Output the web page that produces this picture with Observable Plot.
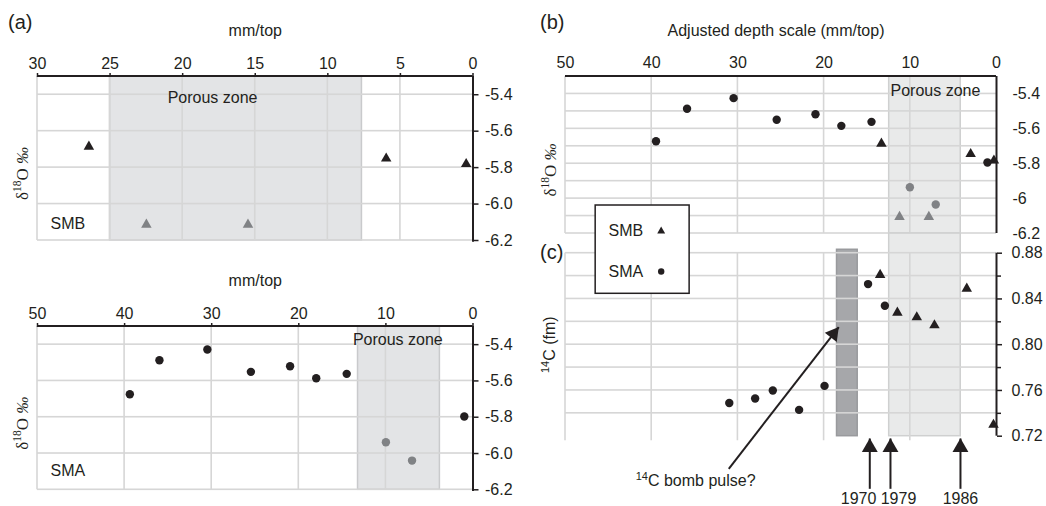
<!DOCTYPE html>
<html><head><meta charset="utf-8">
<script src="https://cdn.jsdelivr.net/npm/d3@7"></script>
<script src="https://cdn.jsdelivr.net/npm/@observablehq/plot@0.6"></script>
<style>
body{margin:0;background:#fff;}
#wrap{position:relative;width:1046px;height:506px;overflow:hidden;font-family:'Liberation Sans',Arial,Helvetica,sans-serif;color:#231f20;background:#fff;}
.panel{position:absolute;}
.tag{position:absolute;font-size:20px;line-height:24px;z-index:5;}
</style></head>
<body><div id="wrap">
<div class="tag" style="left:8px;top:10px">(a)</div>
<div class="tag" style="left:540px;top:10px">(b)</div>
<div class="tag" style="left:540px;top:240px">(c)</div>
</div>
<script>
// ---------- data ----------
// (a) top: SMB, depth (mm from top) vs d18O
const smbDepthA = [26.46, 5.98, 0.47];
const smbD18OA = [-5.685, -5.75, -5.78];
const smbPorousDepthA = [22.5, 15.5];
const smbPorousD18OA = [-6.113, -6.113];
// (a) bottom: SMA
const smaDepthA = [39.4, 36.0, 30.5, 25.5, 21.0, 18.0, 14.5, 1.0];
const smaD18OA = [-5.673, -5.486, -5.427, -5.55, -5.519, -5.585, -5.561, -5.796];
const smaPorousDepthA = [10.0, 7.0];
const smaPorousD18OA = [-5.938, -6.039];
// (b) adjusted depth scale
const smaDepthB = [39.5, 35.9, 30.5, 25.5, 21.0, 18.0, 14.5, 1.05];
const smaD18OB = [-5.671, -5.485, -5.424, -5.548, -5.516, -5.583, -5.56, -5.793];
const smaPorousDepthB = [10.05, 7.05];
const smaPorousD18OB = [-5.935, -6.034];
const smbDepthB = [13.35, 3.0, 0.3];
const smbD18OB = [-5.685, -5.744, -5.782];
const smbPorousDepthB = [11.25, 7.85];
const smbPorousD18OB = [-6.105, -6.105];
// (c) 14C (fm)
const smaDepthC = [31.0, 28.0, 25.95, 22.9, 19.95, 14.9, 12.95];
const smaC14 = [0.749, 0.753, 0.760, 0.743, 0.764, 0.853, 0.834];
const smbDepthC = [13.5, 11.5, 9.25, 7.2, 3.45, 0.35];
const smbC14 = [0.861, 0.828, 0.824, 0.817, 0.849, 0.730];
// zones
const porousZoneA = [25, 7.65];
const porousZoneA2 = [13.2, 3.8];
const porousZoneBC = [12.45, 4.15];
const bombBar = [18.5, 16.1];
const bombBarTop = 0.883;
// scales / ticks
const d18ODomain = [-6.2, -5.3];
const c14Domain = [0.72, 0.88];
const xTicksA = [30, 25, 20, 15, 10, 5, 0];
const xGridA = [30, 25, 20, 15, 10, 5];
const xTicks50 = [50, 40, 30, 20, 10, 0];
const xGrid50 = [50, 40, 30, 20, 10];
const d18OTicks = [-5.4, -5.6, -5.8, -6.0, -6.2];
const d18OLabelsA = ["-5.4", "-5.6", "-5.8", "-6.0", "-6.2"];
const d18OLabelsB = ["-5.4", "-5.6", "-5.8", "-6", "-6.2"];
const d18OGridB = [-5.4, -5.5, -5.6, -5.7, -5.8, -5.9, -6.0, -6.1, -6.2];
const c14Ticks = [0.88, 0.84, 0.80, 0.76, 0.72];
const c14Labels = ["0.88", "0.84", "0.80", "0.76", "0.72"];
const c14Minor = [0.86, 0.82, 0.78, 0.74];
const c14Grid = [0.74, 0.76, 0.78, 0.80, 0.82, 0.84, 0.86, 0.88];
// annotations
const yearArrowX = [14.7, 12.3, 4.18];
const yearArrowY = [0.674, 0.718];
const yearLabels = ["1970", "1979", "1986"];
const yearLabelX = [16.0, 11.37, 4.18];
const yearLabelY = 0.6652;
const bombArrow = {x1: 31.06, y1: 0.6915, x2: 18.3, y2: 0.8154};
const bombText = {x: 34.9, y: 0.6812, t: "14C bomb pulse?"};
const legendBox = {x1: 46.5, x2: 35.6, y1: 0.8445, y2: 0.9217};
const legendItems = [{t: "SMB", sym: "triangle", y: 0.8993}, {t: "SMA", sym: "circle", y: 0.864}];
const legendTextX = 45.0, legendSymX = 38.9;

// ---------- style ----------
const INK = "#231f20", GRID = "#d6d6d6", GRAYPT = "#808285";
const STYLE = {fontFamily: "'Liberation Sans', Arial, Helvetica, sans-serif", fontSize: "16px", color: INK, background: "transparent", overflow: "visible"};
const SERIF = "'Liberation Serif', 'Times New Roman', serif";
const rows = (xs, ys) => xs.map((x, i) => ({x, y: ys[i]}));
// grid lines drawn as thin filled rects so that they sit above the shaded zones
const hLines = (vals, xd, fill = GRID, w = 0.8) => Plot.rect(vals, {y1: d => d, y2: d => d, x1: xd[0], x2: xd[1], insetTop: -w, insetBottom: -w, fill});
const vLines = (vals, yd, fill = GRID, w = 0.8) => Plot.rect(vals, {x1: d => d, x2: d => d, y1: yd[0], y2: yd[1], insetLeft: -w, insetRight: -w, fill});
const wrap = document.getElementById("wrap");
function mount(svg, left, top) {
  const d = document.createElement("div");
  d.className = "panel"; d.style.left = left + "px"; d.style.top = top + "px";
  d.appendChild(svg); wrap.appendChild(d);
}
const mapA = new Map(d18OTicks.map((d, i) => [d, d18OLabelsA[i]]));
const mapB = new Map(d18OTicks.map((d, i) => [d, d18OLabelsB[i]]));
const mapC = new Map(c14Ticks.map((d, i) => [d, c14Labels[i]]));
const D18O_TITLE = "δ18O ‰";

function panelA(o) {
  return Plot.plot({
    width: 540, height: o.height, marginLeft: 37, marginRight: 67.5, marginTop: 76, marginBottom: o.mb,
    x: {domain: o.xDomain, axis: null}, y: {domain: d18ODomain, axis: null},
    style: STYLE,
    marks: [
      Plot.rect([{x1: o.zone[0], x2: o.zone[1], y1: d18ODomain[0], y2: d18ODomain[1]}],
        {x1: "x1", x2: "x2", y1: "y1", y2: "y2", fill: "#e3e4e6", stroke: "#c9cacc", strokeWidth: 1.5}),
      vLines(o.xGrid, d18ODomain),
      hLines(d18OTicks, o.xDomain),
      hLines([d18ODomain[1]], o.xDomain, INK, 1),
      Plot.ruleX([0], {y1: d18ODomain[0] - 0.01, y2: d18ODomain[1], stroke: INK, strokeWidth: 2}),
      Plot.axisX({ticks: o.xTicks, anchor: "top", tickSize: 4, tickPadding: 4, label: null, strokeWidth: 1.5}),
      Plot.axisY({ticks: d18OTicks, anchor: "right", tickSize: 5, tickPadding: 7, tickFormat: d => mapA.get(d), label: null, strokeWidth: 1.5}),
      Plot.text(["mm/top"], {frameAnchor: "top", dy: -46, lineAnchor: "middle", fontSize: 16}),
      Plot.text([D18O_TITLE], {frameAnchor: "left", dx: -15, dy: 15, rotate: -90, fontSize: 17, fontFamily: SERIF}),
      Plot.text([{t: "Porous zone", ...o.zoneLabel}], {x: "x", y: "y", text: "t", fontSize: 16, lineAnchor: "middle"}),
      Plot.text([{t: o.name, ...o.nameLabel}], {x: "x", y: "y", text: "t", textAnchor: "start", fontSize: 16, lineAnchor: "middle"}),
      Plot.dot(rows(o.px, o.py), {x: "x", y: "y", symbol: o.sym, r: o.r, fill: INK, stroke: "none"}),
      Plot.dot(rows(o.gx, o.gy), {x: "x", y: "y", symbol: o.sym, r: o.r, fill: GRAYPT, stroke: "none"})
    ]
  });
}

const a1 = panelA({height: 250, mb: 10, xDomain: [30, 0], xTicks: xTicksA, xGrid: xGridA, zone: porousZoneA,
  zoneLabel: {x: 17.94, y: -5.418}, name: "SMB", nameLabel: {x: 29.1, y: -6.107},
  px: smbDepthA, py: smbD18OA, gx: smbPorousDepthA, gy: smbPorousD18OA, sym: "triangle", r: 3.9});
mount(a1, 0, 0);
const a2 = panelA({height: 256, mb: 16.7, xDomain: [50, 0], xTicks: xTicks50, xGrid: xGrid50, zone: porousZoneA2,
  zoneLabel: {x: 8.63, y: -5.373}, name: "SMA", nameLabel: {x: 48.5, y: -6.098},
  px: smaDepthA, py: smaD18OA, gx: smaPorousDepthA, gy: smaPorousD18OA, sym: "circle", r: 4.2});
mount(a2, 0, 250);

// panel b
const b = Plot.plot({
  width: 506, height: 250, marginLeft: 25, marginRight: 50, marginTop: 76, marginBottom: 17,
  x: {domain: [50, 0], axis: null}, y: {domain: d18ODomain, axis: null},
  style: STYLE,
  marks: [
    Plot.rect([{x1: porousZoneBC[0], x2: porousZoneBC[1], y1: d18ODomain[0], y2: d18ODomain[1]}],
      {x1: "x1", x2: "x2", y1: "y1", y2: "y2", fill: "#e9eaea", stroke: "#cfd0d0", strokeWidth: 1.5}),
    vLines(xGrid50, d18ODomain),
    hLines(d18OGridB, [50, 0]),
    hLines([d18ODomain[1]], [50, 0], INK, 1),
    Plot.ruleX([0], {stroke: INK, strokeWidth: 2}),
    Plot.axisX({ticks: xTicks50, anchor: "top", tickSize: 0, tickPadding: 9, label: null}),
    Plot.axisY({ticks: d18OTicks, anchor: "right", tickSize: 0, tickPadding: 16, tickFormat: d => mapB.get(d), label: null}),
    Plot.text(["Adjusted depth scale (mm/top)"], {frameAnchor: "top", dx: -5, dy: -46, lineAnchor: "middle", fontSize: 16}),
    Plot.text([D18O_TITLE], {frameAnchor: "left", dx: -15, dy: 15, rotate: -90, fontSize: 17, fontFamily: SERIF}),
    Plot.text([{t: "Porous zone", x: 7.08, y: -5.38}], {x: "x", y: "y", text: "t", fontSize: 16, lineAnchor: "middle"}),
    Plot.dot(rows(smaDepthB, smaD18OB), {x: "x", y: "y", r: 4.2, fill: INK, stroke: "none"}),
    Plot.dot(rows(smaPorousDepthB, smaPorousD18OB), {x: "x", y: "y", r: 4.2, fill: GRAYPT, stroke: "none"}),
    Plot.dot(rows(smbDepthB, smbD18OB), {x: "x", y: "y", symbol: "triangle", r: 3.9, fill: INK, stroke: "none"}),
    Plot.dot(rows(smbPorousDepthB, smbPorousD18OB), {x: "x", y: "y", symbol: "triangle", r: 3.9, fill: GRAYPT, stroke: "none"})
  ]
});
mount(b, 540, 0);

// panel c
const c = Plot.plot({
  width: 506, height: 311, marginLeft: 25, marginRight: 50, marginTop: 57.7, marginBottom: 70.3,
  x: {domain: [50, 0], axis: null}, y: {domain: c14Domain, axis: null},
  style: STYLE,
  marks: [
    Plot.rect([{x1: porousZoneBC[0], x2: porousZoneBC[1], y1: c14Domain[0], y2: 0.8972}],
      {x1: "x1", x2: "x2", y1: "y1", y2: "y2", fill: "#e9eaea", stroke: "#cfd0d0", strokeWidth: 1.5}),
    Plot.rect([{x1: bombBar[0], x2: bombBar[1], y1: c14Domain[0], y2: bombBarTop}],
      {x1: "x1", x2: "x2", y1: "y1", y2: "y2", fill: "#a6a7aa", stroke: "#999a9d", strokeWidth: 1.5}),
    vLines(xGrid50, [c14Domain[0] - 0.004, c14Domain[1]]),
    hLines(c14Grid, [50, 0]),
    Plot.ruleX([0], {stroke: INK, strokeWidth: 2}),
    Plot.axisY({ticks: c14Ticks, anchor: "right", tickSize: 5, tickPadding: 10, tickFormat: d => mapC.get(d), label: null, strokeWidth: 1.5}),
    Plot.axisY({ticks: c14Minor, anchor: "right", tickSize: 4, tickFormat: () => "", label: null, strokeWidth: 1.5}),
    Plot.text(["14C (fm)"], {frameAnchor: "left", dx: -16, rotate: -90, fontSize: 16}),
    // legend
    Plot.rect([legendBox], {x1: "x1", x2: "x2", y1: "y1", y2: "y2", fill: "white", stroke: INK, strokeWidth: 1.5}),
    Plot.text(legendItems, {x: legendTextX, y: "y", text: "t", textAnchor: "start", lineAnchor: "middle", fontSize: 16}),
    Plot.dot(legendItems, {x: legendSymX, y: "y", symbol: "sym", r: d => d.sym === "circle" ? 4 : 3.4, fill: INK, stroke: "none"}),
    // data
    Plot.dot(rows(smaDepthC, smaC14), {x: "x", y: "y", r: 4.2, fill: INK, stroke: "none"}),
    Plot.dot(rows(smbDepthC, smbC14), {x: "x", y: "y", symbol: "triangle", r: 3.9, fill: INK, stroke: "none"}),
    // annotations
    Plot.link([bombArrow], {x1: "x1", y1: "y1", x2: "x2", y2: "y2", stroke: INK, strokeWidth: 2}),
    Plot.dot([bombArrow], {x: "x2", y: "y2", symbol: "triangle", r: 5.6, rotate: 38, dx: -5.3, dy: 6.8, fill: INK, stroke: "none"}),
    Plot.link(yearArrowX, {x1: d => d, x2: d => d, y1: yearArrowY[0], y2: yearArrowY[1], stroke: INK, strokeWidth: 2}),
    Plot.dot(yearArrowX, {x: d => d, y: yearArrowY[1], symbol: "triangle", r: 5.9, dy: 9, fill: INK, stroke: "none"}),
    Plot.text(yearLabels, {x: (d, i) => yearLabelX[i], y: yearLabelY, text: d => d, fontSize: 16, lineAnchor: "middle"}),
    Plot.text([bombText], {x: "x", y: "y", text: "t", fontSize: 16, lineAnchor: "middle"})
  ]
});
mount(c, 540, 195);

// ---------- rich text (superscripts, italic per-mille) ----------
const NS = "http://www.w3.org/2000/svg";
function rich(svg, original, parts) {
  for (const t of svg.querySelectorAll("text")) {
    if (t.textContent === original && t.children.length === 0) {
      t.textContent = "";
      for (const p of parts) {
        const s = document.createElementNS(NS, "tspan");
        s.textContent = p.t;
        if (p.fs) s.setAttribute("font-size", p.fs);
        if (p.dy) s.setAttribute("dy", p.dy);
        if (p.it) s.setAttribute("font-style", "italic");
        t.appendChild(s);
      }
      const len = t.getComputedTextLength();
      t.setAttribute("text-anchor", "start");
      t.setAttribute("x", -len / 2);
    }
  }
}
const d18OParts = [{t: "δ"}, {t: "18", fs: 11.5, dy: -6.5}, {t: "O", dy: 6.5}, {t: " ‰", it: true}];
for (const s of [a1, a2, b]) rich(s, D18O_TITLE, d18OParts);
rich(c, "14C (fm)", [{t: "14", fs: 11, dy: -6}, {t: "C (fm)", dy: 6}]);
rich(c, "14C bomb pulse?", [{t: "14", fs: 11, dy: -6}, {t: "C bomb pulse?", dy: 6}]);
</script>
</body></html>
